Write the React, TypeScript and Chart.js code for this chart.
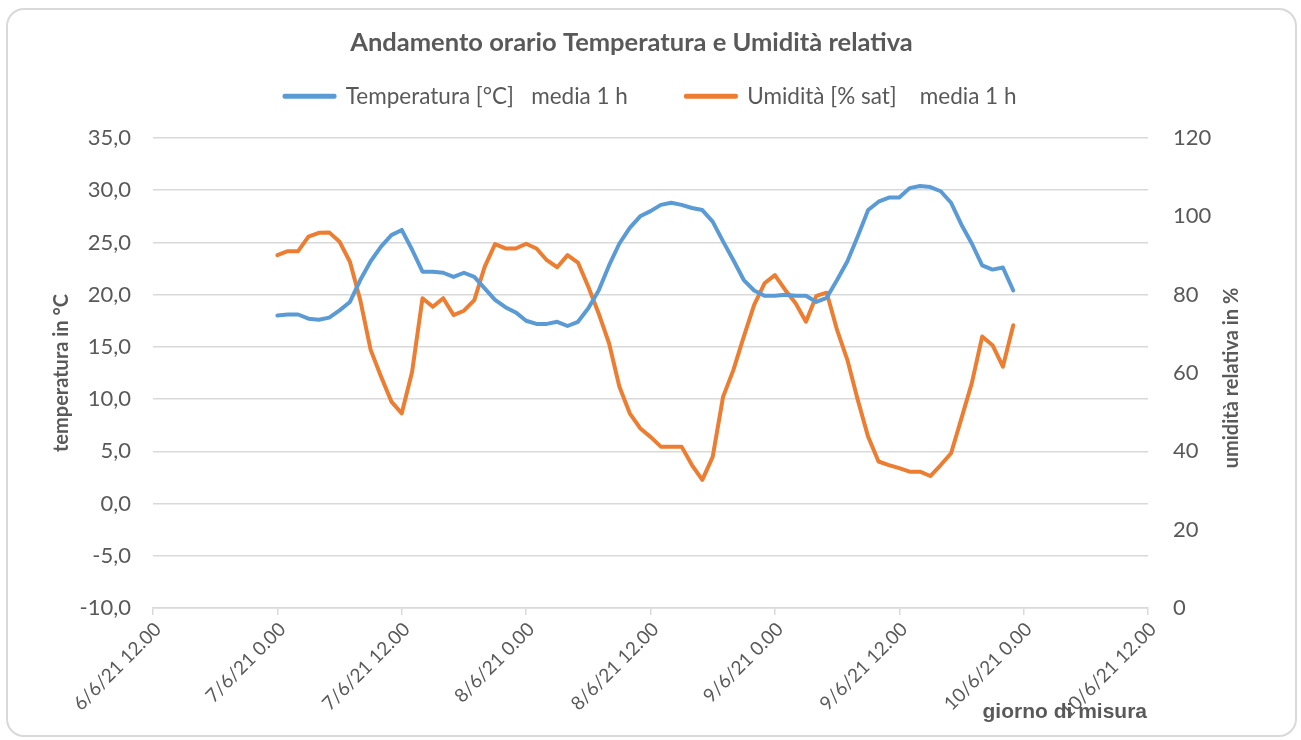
import React, { useEffect, useRef } from "react";
import { Chart, registerables } from "chart.js";

Chart.register(...registerables);

const TITLE = "Andamento orario Temperatura e Umidità relativa";
const SERIES_NAMES = ["Temperatura [°C]   media 1 h", "Umidità [% sat]    media 1 h"];
const Y_LEFT_TITLE = "temperatura in °C";
const Y_RIGHT_TITLE = "umidità relativa in %";
const X_TITLE = "giorno di misura";

// hours measured from 7/6/21 0.00
const X_TICK_HOURS = [-12, 0, 12, 24, 36, 48, 60, 72, 84];
const X_TICK_LABELS = [
  "6/6/21 12.00",
  "7/6/21 0.00",
  "7/6/21 12.00",
  "8/6/21 0.00",
  "8/6/21 12.00",
  "9/6/21 0.00",
  "9/6/21 12.00",
  "10/6/21 0.00",
  "10/6/21 12.00",
];

const TEMP = [
  18.0, 18.1, 18.1, 17.7, 17.6, 17.8, 18.5, 19.3, 21.4, 23.2, 24.6, 25.7,
  26.2, 24.3, 22.2, 22.2, 22.1, 21.7, 22.1, 21.7, 20.6, 19.5, 18.8, 18.3,
  17.5, 17.2, 17.2, 17.4, 17.0, 17.4, 18.7, 20.4, 22.8, 24.9, 26.4, 27.5,
  28.0, 28.6, 28.8, 28.6, 28.3, 28.1, 27.0, 25.1, 23.3, 21.4, 20.4, 19.9,
  19.9, 20.0, 19.9, 19.9, 19.3, 19.7, 21.4, 23.2, 25.6, 28.1, 28.9, 29.3,
  29.3, 30.2, 30.4, 30.3, 29.9, 28.8, 26.7, 24.9, 22.8, 22.4, 22.6, 20.4,
];

const HUM = [
  90.1, 91.1, 91.1, 94.8, 95.8, 95.9, 93.5, 88.4, 78.6, 65.9, 59.1, 52.7,
  49.7, 60.3, 79.1, 76.9, 79.1, 74.8, 75.9, 78.6, 87.1, 92.9, 91.8, 91.8,
  93.0, 91.8, 88.8, 87.0, 90.1, 88.2, 82.0, 75.2, 67.6, 56.5, 49.7, 45.9,
  43.7, 41.2, 41.2, 41.2, 36.5, 32.7, 38.6, 53.9, 60.8, 69.3, 77.4, 82.9,
  85.0, 81.2, 77.8, 73.1, 79.7, 80.5, 71.0, 63.3, 53.1, 43.7, 37.4, 36.5,
  35.7, 34.8, 34.8, 33.7, 36.5, 39.5, 48.4, 57.4, 69.3, 67.1, 61.6, 72.2,
];

const BLUE = "#5B9BD5";
const ORANGE = "#ED7D31";
const TEXT = "#595959";
const GRID = "#d9d9d9";

const W = 1301;
const H = 740;

const legendExtra = {
  id: "legendExtra",
  beforeInit(chart: any) {
    const legend = chart.legend;
    if (!legend) return;
    const fit = legend.fit;
    legend.fit = function () {
      fit.call(legend);
      legend.height += 20.5;
    };
  },
  afterLayout(chart: any) {
    const t = chart.titleBlock;
    if (t) {
      t.left -= 19;
      t.right -= 19;
    }
  },
};

const extraTitles = {
  id: "extraTitles",
  afterDraw(chart: any) {
    const ctx = chart.ctx;
    const y1 = chart.scales.y1;
    const x = chart.scales.x;
    ctx.save();
    ctx.fillStyle = TEXT;
    ctx.font = "bold 20px Lato";
    ctx.textAlign = "center";
    ctx.textBaseline = "middle";
    ctx.translate(y1.right - 69, (y1.top + y1.bottom) / 2 + 5);
    ctx.rotate(-Math.PI / 2);
    ctx.fillText(Y_RIGHT_TITLE, 0, 0);
    ctx.restore();

    ctx.save();
    ctx.fillStyle = TEXT;
    ctx.font = "bold 21px 'Liberation Sans'";
    ctx.textAlign = "right";
    ctx.textBaseline = "middle";
    ctx.fillText(X_TITLE, x.right - 1, 712);
    ctx.restore();
  },
};

export default function App() {
  const ref = useRef<HTMLCanvasElement | null>(null);

  useEffect(() => {
    const canvas = ref.current;
    if (!canvas) return;
    const tempData = TEMP.map((v, i) => ({ x: i, y: v }));
    const humData = HUM.map((v, i) => ({ x: i, y: v }));
    const chart = new Chart(canvas, {
      type: "line",
      data: {
        datasets: [
          {
            label: SERIES_NAMES[0],
            data: tempData,
            borderColor: BLUE,
            backgroundColor: BLUE,
            borderWidth: 4,
            pointRadius: 0,
            tension: 0,
            borderJoinStyle: "round",
            borderCapStyle: "round",
            yAxisID: "y",
          },
          {
            label: SERIES_NAMES[1],
            data: humData,
            borderColor: ORANGE,
            backgroundColor: ORANGE,
            borderWidth: 4,
            pointRadius: 0,
            tension: 0,
            borderJoinStyle: "round",
            borderCapStyle: "round",
            yAxisID: "y1",
          },
        ],
      },
      options: {
        responsive: false,
        animation: false,
        layout: { padding: 0 },
        plugins: {
          title: {
            display: true,
            text: TITLE,
            color: TEXT,
            font: { family: "Lato", size: 25.5, weight: "bold" },
            padding: { top: 27.7, bottom: -31.3 },
          },
          legend: {
            display: true,
            position: "top",
            labels: {
              boxWidth: 50,
              boxHeight: 1,
              padding: 58,
              color: TEXT,
              font: { family: "Lato", size: 22.5 },
            },
          },
          tooltip: { enabled: false },
        },
        scales: {
          x: {
            type: "linear",
            min: X_TICK_HOURS[0],
            max: X_TICK_HOURS[X_TICK_HOURS.length - 1],
            afterFit(scale: any) {
              scale.height = 132;
            },
            afterBuildTicks(scale: any) {
              scale.ticks = X_TICK_HOURS.map((v) => ({ value: v }));
            },
            ticks: {
              autoSkip: false,
              minRotation: 45,
              maxRotation: 45,
              color: TEXT,
              padding: 3,
              labelOffset: 5,
              font: { family: "Lato", size: 19 },
              callback: (value: any) => {
                const idx = X_TICK_HOURS.indexOf(Number(value));
                return idx >= 0 ? X_TICK_LABELS[idx] : "";
              },
            },
            grid: {
              drawOnChartArea: false,
              drawTicks: true,
              tickLength: 7,
              color: GRID,
              lineWidth: 1.5,
            },
            border: { display: true, color: GRID, width: 1.5 },
          },
          y: {
            type: "linear",
            position: "left",
            min: -10,
            max: 35,
            afterFit(scale: any) {
              scale.width = 153;
            },
            ticks: {
              stepSize: 5,
              color: TEXT,
              padding: 22,
              font: { family: "Lato", size: 22 },
              callback: (value: any) => Number(value).toFixed(1).replace(".", ","),
            },
            grid: { color: GRID, lineWidth: 1.5, drawTicks: false },
            border: { display: false },
            title: {
              display: true,
              text: Y_LEFT_TITLE,
              color: TEXT,
              font: { family: "Lato", size: 20, weight: "bold" },
              padding: { top: 50, bottom: 0 },
            },
          },
          y1: {
            type: "linear",
            position: "right",
            min: 0,
            max: 120,
            afterFit(scale: any) {
              scale.width = 153;
            },
            ticks: {
              stepSize: 20,
              color: TEXT,
              padding: 25,
              font: { family: "Lato", size: 22 },
            },
            grid: { drawOnChartArea: false, drawTicks: false },
            border: { display: false },
          },
        },
      },
      plugins: [legendExtra, extraTitles],
    } as any);
    return () => chart.destroy();
  }, []);

  return (
    <div
      style={{
        position: "fixed",
        left: 0,
        top: 0,
        width: W,
        height: H,
        background: "#ffffff",
        overflow: "hidden",
      }}
    >
      <canvas
        ref={ref}
        width={W}
        height={H}
        style={{ position: "absolute", left: 0, top: 0, width: W, height: H }}
      />
      <div
        style={{
          position: "absolute",
          left: 6,
          top: 8,
          width: 1291,
          height: 729,
          boxSizing: "border-box",
          border: "2px solid #d9d9d9",
          borderRadius: 18,
          pointerEvents: "none",
        }}
      />
    </div>
  );
}
